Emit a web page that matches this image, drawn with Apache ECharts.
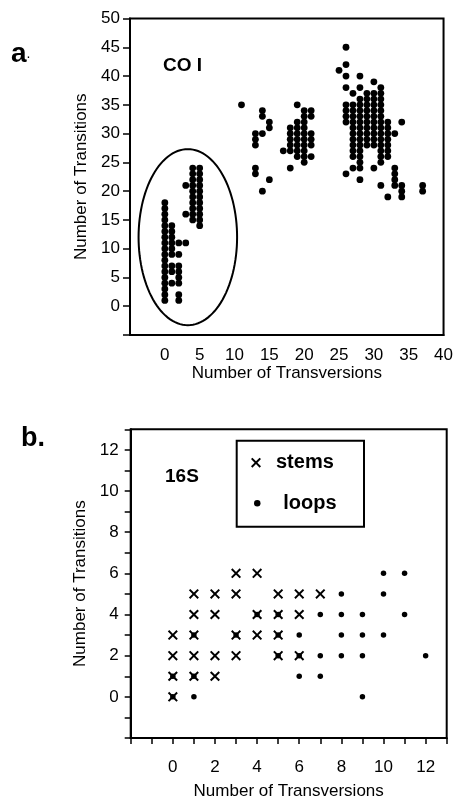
<!DOCTYPE html>
<html>
<head>
<meta charset="utf-8">
<script src="https://cdn.jsdelivr.net/npm/echarts@6/dist/echarts.min.js"></script>
<style>
html,body{margin:0;padding:0;background:#fff;}
#chart{width:456px;height:801px;}
</style>
</head>
<body>
<div id="chart"></div>
<script>
// ---- Panel a: CO I ----
const coiTransversions = [0, 1, 2, 3, 4, 5, 11, 13, 14, 15, 17, 18, 19, 20, 21, 25, 26, 27, 28, 29, 30, 31, 32, 33, 34, 37];
const coiTransitions = [
  [1,2,3,4,5,6,7,8,9,10,11,12,13,14,15,16,17,18],
  [14,13,12,11,10,9,7,6,4],
  [11,9,7,6,5,4,2,1],
  [21,16,11],
  [24,23,22,21,20,19,18,17,16,15],
  [24,23,22,21,20,19,18,17,16,15,14],
  [35],
  [30,29,28,24,23],
  [34,33,30,20],
  [32,31,22],
  [27],
  [31,30,29,28,27,24],
  [35,32,31,30,29,28,27,26],
  [34,33,32,31,30,29,28,27,26,25],
  [34,33,30,29,28,26],
  [41],
  [45,42,40,38,35,34,33,32,23],
  [37,35,34,33,32,31,30,29,28,27,26,24],
  [40,38,36,35,34,33,32,31,30,29,28,27,26,25,24,22],
  [37,36,35,34,33,32,31,30,29,28],
  [39,37,36,35,34,33,32,31,30,29,28,24],
  [38,37,36,35,34,33,32,31,30,29,28,27,26,25,21],
  [32,31,30,29,28,27,26,19],
  [30,24,23,22,21],
  [32,21,20,19],
  [21,20]
];
// ellipse around the low-divergence group: [centerX, centerY, radiusX, radiusY] in data units
const coiEllipse = [3.3, 12, 7.07, 15.3];

// ---- Panel b: 16S ----
const stemsTransversions = [3,4,1,2,3,5,6,7,1,2,4,5,6,0,1,3,4,5,0,1,2,3,5,6,0,1,2,0];
const stemsTransitions   = [6,6,5,5,5,5,5,5,4,4,4,4,4,3,3,3,3,3,2,2,2,2,2,2,1,1,1,0];
const loopsTransversions = [10,11,8,10,4,5,7,8,9,11,1,3,5,6,8,9,10,5,6,7,8,9,12,0,1,6,7,0,1,9];
const loopsTransitions   = [6,6,5,5,4,4,4,4,4,4,3,3,3,3,3,3,3,2,2,2,2,2,2,1,1,1,1,0,0,0];

const FONT = "'Liberation Sans', Arial, Helvetica, sans-serif";
const coiData = [];
coiTransversions.forEach((x, i) => coiTransitions[i].forEach(y => coiData.push([x, y])));
const stemsData = stemsTransversions.map((x, i) => [x, stemsTransitions[i]]);
const loopsData = loopsTransversions.map((x, i) => [x, loopsTransitions[i]]);

const X_PATH = 'path://M0,1.4L1.4,0L5,3.6L8.6,0L10,1.4L6.4,5L10,8.6L8.6,10L5,6.4L1.4,10L0,8.6L3.6,5Z';

function axisCommon(extra) {
  return Object.assign({
    type: 'value',
    nameLocation: 'middle',
    nameTextStyle: { fontFamily: FONT, fontSize: 17, color: '#000' },
    axisLine: { show: true, onZero: false, lineStyle: { color: '#000', width: 2 } },
    axisTick: { show: true, inside: false, length: 7, lineStyle: { color: '#000', width: 1.5 } },
    axisLabel: { fontFamily: FONT, fontSize: 17, color: '#000' },
    splitLine: { show: false }
  }, extra);
}

const chart = echarts.init(document.getElementById('chart'), null, { renderer: 'canvas' });
chart.setOption({
  backgroundColor: '#fff',
  animation: false,
  grid: [
    { left: 130, top: 18.5, width: 316.5, height: 316.5, show: true, borderColor: '#000', borderWidth: 2 },
    { left: 130.7, top: 429.3, width: 316, height: 315.7, show: true, borderColor: '#000', borderWidth: 2 }
  ],
  xAxis: [
    axisCommon({ gridIndex: 0, min: -5, max: 40, interval: 5, name: 'Number of Transversions', nameGap: 30,
      axisTick: { show: false },
      axisLabel: { fontFamily: FONT, fontSize: 17, color: '#000', margin: 12, formatter: v => v < 0 ? '' : String(v) } }),
    axisCommon({ gridIndex: 1, min: -2, max: 13, interval: 1, name: 'Number of Transversions', nameGap: 45,
      axisTick: { show: true, inside: false, length: 6, lineStyle: { color: '#000', width: 1.5 } },
      axisLabel: { fontFamily: FONT, fontSize: 17, color: '#000', margin: 21, formatter: v => (v < 0 || v % 2 !== 0) ? '' : String(v) } })
  ],
  yAxis: [
    axisCommon({ gridIndex: 0, min: -5, max: 50, interval: 5, name: 'Number of Transitions', nameGap: 32,
      axisLabel: { fontFamily: FONT, fontSize: 17, color: '#000', margin: 10, formatter: v => v < 0 ? '' : String(v) } }),
    axisCommon({ gridIndex: 1, min: -2, max: 13, interval: 1, name: 'Number of Transitions', nameGap: 31,
      axisTick: { show: true, inside: false, length: 6, lineStyle: { color: '#000', width: 1.5 } },
      axisLabel: { fontFamily: FONT, fontSize: 17, color: '#000', margin: 12, formatter: v => (v < 0 || v % 2 !== 0) ? '' : String(v) } })
  ],
  legend: [
    { data: [{ name: 'stems', icon: X_PATH }], left: 251, top: 452.7, padding: 0, itemWidth: 30, itemHeight: 10,
      selectedMode: false, textStyle: { fontFamily: FONT, fontSize: 20, fontWeight: 'bold', color: '#000', lineHeight: 20 } },
    { data: [{ name: 'loops', icon: 'circle' }], left: 254, top: 493.3, padding: 0, itemWidth: 42, itemHeight: 6.5,
      selectedMode: false, textStyle: { fontFamily: FONT, fontSize: 20, fontWeight: 'bold', color: '#000', lineHeight: 20 } }
  ],
  graphic: [
    { type: 'text', left: 11, top: 40, style: { text: '{a|a}{d|.}', rich: { a: { fontFamily: FONT, fontSize: 28, fontWeight: 'bold', fill: '#000' }, d: { fontFamily: FONT, fontSize: 14, fill: '#000' } } } },
    { type: 'text', left: 163, top: 56, style: { text: 'CO I', fontFamily: FONT, fontSize: 19, fontWeight: 'bold', fill: '#000' } },
    { type: 'text', left: 21, top: 425, style: { text: 'b.', fontFamily: FONT, fontSize: 27, fontWeight: 'bold', fill: '#000' } },
    { type: 'text', left: 165, top: 467, style: { text: '16S', fontFamily: FONT, fontSize: 19, fontWeight: 'bold', fill: '#000' } },
    { type: 'rect', shape: { x: 236.7, y: 440.7, width: 127.3, height: 86 }, style: { fill: 'none', stroke: '#000', lineWidth: 2 }, z: 10 }
  ],
  series: [
    { type: 'scatter', xAxisIndex: 0, yAxisIndex: 0, data: coiData, symbol: 'circle', symbolSize: 6.8,
      itemStyle: { color: '#000', opacity: 1 }, silent: true },
    { type: 'custom', xAxisIndex: 0, yAxisIndex: 0, data: [coiEllipse], silent: true,
      renderItem: function (params, api) {
        const c = api.coord([api.value(0), api.value(1)]);
        const s = api.size([api.value(2), api.value(3)]);
        const pts = [];
        for (let k = 0; k <= 120; k++) {
          const t = k / 120 * Math.PI * 2;
          pts.push([c[0] + s[0] * Math.cos(t), c[1] - s[1] * Math.sin(t)]);
        }
        return { type: 'polyline', shape: { points: pts }, style: { fill: 'none', stroke: '#000', lineWidth: 2 } };
      } },
    { name: 'stems', type: 'scatter', xAxisIndex: 1, yAxisIndex: 1, data: stemsData, symbol: X_PATH, symbolSize: 10,
      itemStyle: { color: '#000', opacity: 1 }, silent: true },
    { name: 'loops', type: 'scatter', xAxisIndex: 1, yAxisIndex: 1, data: loopsData, symbol: 'circle', symbolSize: 5.5,
      itemStyle: { color: '#000', opacity: 1 }, silent: true }
  ]
});
</script>
</body>
</html>
